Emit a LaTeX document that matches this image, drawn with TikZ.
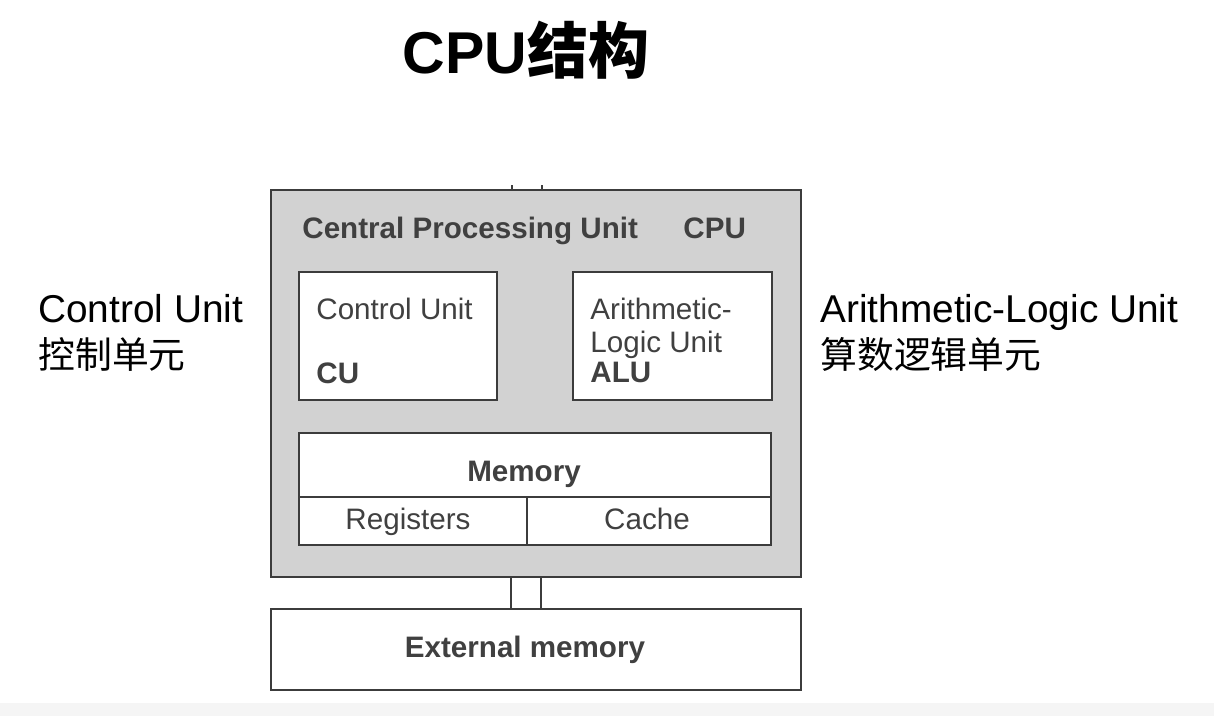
\documentclass[tikz,border=0pt]{standalone}
\usepackage{fontspec}
\setmainfont{Liberation Sans}
\newfontfamily\cjk{Noto Sans CJK SC}
\usetikzlibrary{positioning,calc}
\definecolor{cpugray}{HTML}{D2D2D2}
\definecolor{linegray}{HTML}{3C3C3C}
\definecolor{textgray}{HTML}{404040}
\tikzset{
	unitbox/.style={draw=linegray, line width=1pt, fill=white, inner sep=0pt},
	boxtext/.style={text=textgray, font=\fontsize{14.8}{15.5}\selectfont, inner sep=0pt},
	boxbold/.style={boxtext, font=\fontsize{14.8}{15.5}\selectfont\bfseries},
	sidetext/.style={font=\fontsize{19.4}{22}\selectfont, inner sep=0pt, anchor=base west},
	sidecjk/.style={font=\fontsize{18.4}{22}\selectfont\cjk, inner sep=0pt, anchor=base west},
	bus/.style={draw=linegray, line width=1pt},
}
\newcommand{\basetext}[4]{
	\node[#1, anchor=base west] (#2) at (#3) {#4};
}

\begin{document}
\begin{tikzpicture}[x=0.5pt,y=-0.5pt]
	\useasboundingbox (0,0) rectangle (1214,716);
	\fill[white] (0,0) rectangle (1214,716);
	\fill[black!4] (0,703) rectangle (1214,716);

	% title
	\node[anchor=base, inner sep=0pt] (title) at (526,74)
		{\fontsize{29.5}{30}\selectfont\bfseries CPU{\cjk\fontsize{30.5}{30}\selectfont\bfseries 结构}};

	% cpu box and its units
	\node[unitbox, fill=cpugray, minimum width=265pt, minimum height=193.5pt] (cpu) at (536,383.5) {};
	\basetext{boxbold}{cpuname}{302,239}{Central Processing Unit}
	\basetext{boxbold}{cpushort}{683,239}{CPU}

	\node[unitbox, minimum width=99pt, minimum height=64pt] (cu) at (398,336) {};
	\basetext{boxtext}{cuname}{316,320}{Control Unit}
	\basetext{boxbold}{cushort}{316,383}{CU}

	\node[unitbox, minimum width=99.5pt, minimum height=64pt] (alu) at (672.5,336) {};
	\basetext{boxtext}{aluname}{590,320}{Arithmetic-}
	\basetext{boxtext}{aluname2}{590,352}{Logic Unit}
	\basetext{boxbold}{alushort}{590,382}{ALU}

	\node[unitbox, minimum width=236pt, minimum height=32pt] (mem) at (535,465) {};
	\node[boxbold, anchor=base] (memname) at (524,481) {Memory};
	\node[unitbox, minimum width=114pt, minimum height=24pt] (reg) at (413,521) {};
	\node[boxtext, anchor=base] (regname) at (408,529) {Registers};
	\node[unitbox, minimum width=122pt, minimum height=24pt] (cache) at (649,521) {};
	\node[boxtext, anchor=base] (cachename) at (647,529) {Cache};

	% external memory
	\node[unitbox, minimum width=265pt, minimum height=40.5pt] (ext) at (536,649.5) {};
	\node[boxbold, anchor=base] (extname) at (525,657) {External memory};

	% bus lines
	\draw[bus] ($(cpu.south)+(-12.5pt,0)$) -- ($(ext.north)+(-12.5pt,0)$);
	\draw[bus] ($(cpu.south)+(2.5pt,0)$) -- ($(ext.north)+(2.5pt,0)$);
	\draw[bus, line width=0.6pt] ($(cpu.north)+(-12pt,0)$) -- ++(0,-4);
	\draw[bus, line width=0.6pt] ($(cpu.north)+(3pt,0)$) -- ++(0,-4);

	% side labels
	\node[sidetext] (culabel) at (38,322) {Control Unit};
	\node[sidecjk] (cucjk) at (38,368) {控制单元};
	\node[sidetext] (alulabel) at (820,322) {Arithmetic-Logic Unit};
	\node[sidecjk] (alucjk) at (820,368) {算数逻辑单元};
\end{tikzpicture}
\end{document}
